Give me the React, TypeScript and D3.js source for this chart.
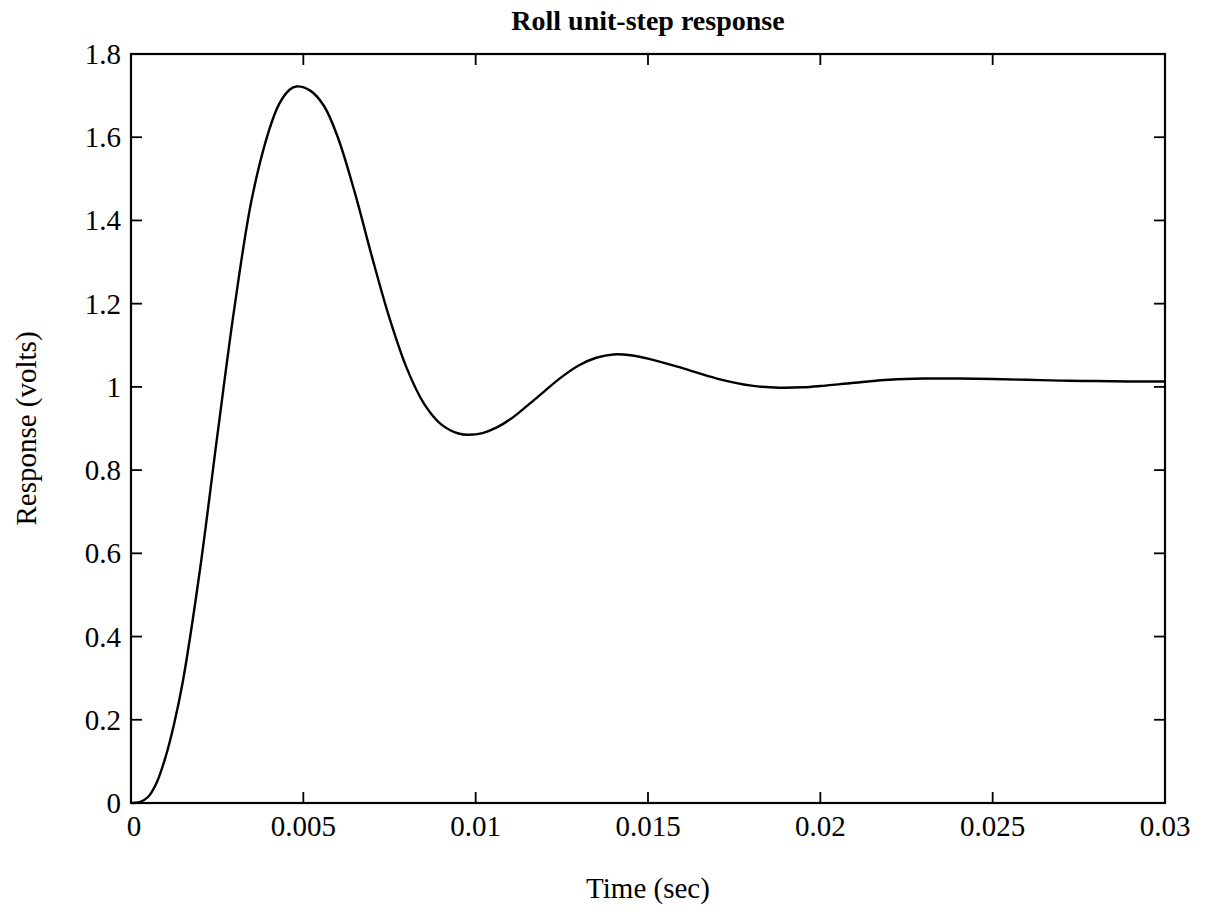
import React from 'react';
import * as d3 from 'd3';

// values
const timeSec = [
  0, 0.00025, 0.0005, 0.00075, 0.001, 0.00125, 0.0015, 0.002, 0.0025, 0.003,
  0.0035, 0.004, 0.0043, 0.0046, 0.0048, 0.0052, 0.0056, 0.006, 0.0065, 0.007, 0.0075,
  0.008, 0.0085, 0.009, 0.0095, 0.0098, 0.0102, 0.0106, 0.011, 0.0115, 0.012,
  0.0125, 0.013, 0.0135, 0.014, 0.0145, 0.015, 0.016, 0.017, 0.018, 0.0188,
  0.0195, 0.02, 0.021, 0.022, 0.023, 0.024, 0.025, 0.026, 0.027, 0.028, 0.029, 0.03,
];
const responseVolts = [
  0, 0.002, 0.015, 0.05, 0.11, 0.19, 0.29, 0.56, 0.88, 1.19,
  1.45, 1.615, 1.68, 1.714, 1.722, 1.712, 1.675, 1.6, 1.465, 1.31, 1.165,
  1.045, 0.96, 0.91, 0.888, 0.885, 0.889, 0.902, 0.922, 0.955, 0.99,
  1.024, 1.052, 1.07, 1.078, 1.076, 1.068, 1.045, 1.02, 1.003, 0.998,
  0.999, 1.002, 1.01, 1.017, 1.02, 1.02, 1.019, 1.017, 1.015, 1.014, 1.013, 1.013,
];
const xTicks = [0, 0.005, 0.01, 0.015, 0.02, 0.025, 0.03];
const xTickLabels = ['0', '0.005', '0.01', '0.015', '0.02', '0.025', '0.03'];
const yTicks = [0, 0.2, 0.4, 0.6, 0.8, 1, 1.2, 1.4, 1.6, 1.8];
const yTickLabels = ['0', '0.2', '0.4', '0.6', '0.8', '1', '1.2', '1.4', '1.6', '1.8'];

const W = 1206, H = 911;
const left = 131, right = 1165, top = 54, bottom = 803;
const tickLen = 11;
const font = '"Liberation Serif", "Times New Roman", serif';

export default function App() {
  const x = d3.scaleLinear().domain([0, 0.03]).range([left, right]);
  const y = d3.scaleLinear().domain([0, 1.8]).range([bottom, top]);

  const points = timeSec.map((t, i) => [t, responseVolts[i]] as [number, number]);
  const line = d3.line<[number, number]>()
    .x(d => x(d[0]))
    .y(d => y(d[1]))
    .curve(d3.curveCatmullRom.alpha(0.5));

  return (
    <svg width={W} height={H} style={{ position: 'absolute', left: 0, top: 0, background: '#fff' }}
      fontFamily={font}>
      <rect x={0} y={0} width={W} height={H} fill="#fff" />

      {/* ticks on all four sides, pointing in */}
      {xTicks.map(t => (
        <g key={'xt' + t} stroke="#000" strokeWidth={1.8}>
          <line x1={x(t)} x2={x(t)} y1={bottom} y2={bottom - tickLen} />
          <line x1={x(t)} x2={x(t)} y1={top} y2={top + tickLen} />
        </g>
      ))}
      {yTicks.map(v => (
        <g key={'yt' + v} stroke="#000" strokeWidth={1.8}>
          <line x1={left} x2={left + tickLen} y1={y(v)} y2={y(v)} />
          <line x1={right} x2={right - tickLen} y1={y(v)} y2={y(v)} />
        </g>
      ))}

      <rect x={left} y={top} width={right - left} height={bottom - top}
        fill="none" stroke="#000" strokeWidth={2.2} />

      <path d={line(points) ?? ''} fill="none" stroke="#000" strokeWidth={2.4} />

      {xTicks.map((t, i) => (
        <text key={'xl' + t} x={x(t) + (i === 0 ? 3 : 0)} y={bottom + 33} fontSize={29}
          textAnchor="middle">{xTickLabels[i]}</text>
      ))}
      {yTicks.map((v, i) => (
        <text key={'yl' + v} x={left - 10} y={y(v)} fontSize={29} textAnchor="end"
          dominantBaseline="central">{yTickLabels[i]}</text>
      ))}

      <text x={(left + right) / 2} y={30} fontSize={28} fontWeight="bold" textAnchor="middle">
        Roll unit-step response
      </text>
      <text x={(left + right) / 2} y={898} fontSize={29} textAnchor="middle">Time (sec)</text>
      <text transform={`translate(36, ${(top + bottom) / 2}) rotate(-90)`} fontSize={29}
        textAnchor="middle">Response (volts)</text>
    </svg>
  );
}
